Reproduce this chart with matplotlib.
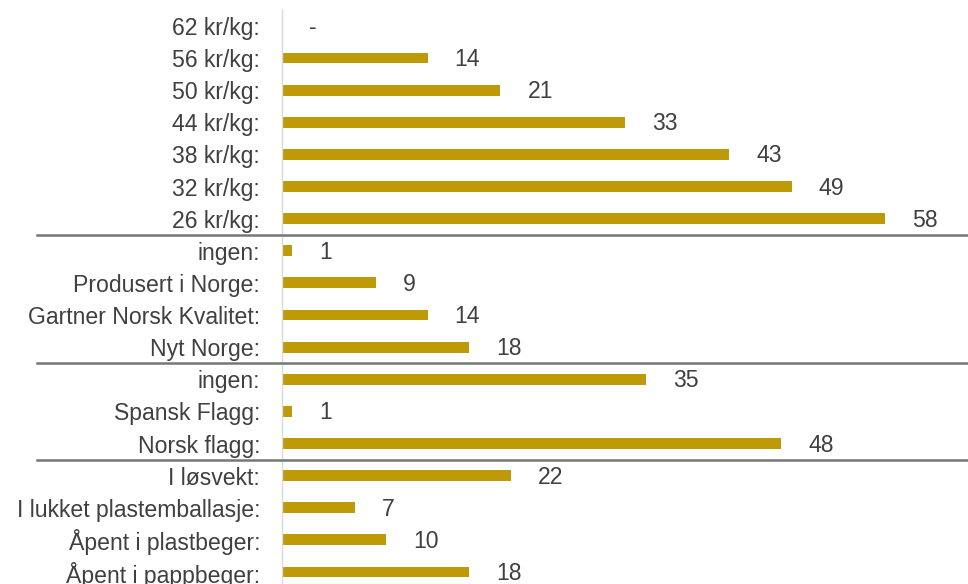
import matplotlib.pyplot as plt
from matplotlib.transforms import blended_transform_factory

# pris, merking, flagg og emballasje - antall valg per alternativ
pris = ['62 kr/kg:', '56 kr/kg:', '50 kr/kg:', '44 kr/kg:', '38 kr/kg:', '32 kr/kg:', '26 kr/kg:']
pris_verdi = [0, 14, 21, 33, 43, 49, 58]
merke = ['ingen:', 'Produsert i Norge:', 'Gartner Norsk Kvalitet:', 'Nyt Norge:']
merke_verdi = [1, 9, 14, 18]
flagg = ['ingen:', 'Spansk Flagg:', 'Norsk flagg:']
flagg_verdi = [35, 1, 48]
pakning = ['I løsvekt:', 'I lukket plastemballasje:', 'Åpent i plastbeger:', 'Åpent i pappbeger:']
pakning_verdi = [22, 7, 10, 18]

grupper = [(pris, pris_verdi), (merke, merke_verdi), (flagg, flagg_verdi), (pakning, pakning_verdi)]
labels = []
values = []
skille = []
for navn, verdi in grupper:
    labels += navn
    values += verdi
    skille.append(len(labels) - 0.5)
skille = skille[:-1]

plt.rcParams['font.family'] = ['Liberation Sans', 'DejaVu Sans']
gull = '#BE9A08'
tekst = '#404040'

fig = plt.figure(figsize=(9.68, 5.84), dpi=100)
ax = fig.add_axes([282 / 968, 0, 1 - 282 / 968, 1])

pos = list(range(len(labels)))
ax.barh(pos, values, height=0.34, color=gull)

ax.set_xlim(0, (968 - 282) / 10.4)
ax.set_ylim(17.373, -0.806)

px = 1 / 10.4
for i, v in enumerate(values):
    txt = '-' if v == 0 else str(v)
    ax.text(v + 27 * px, i + 0.05, txt, va='center', ha='left', fontsize=16.6, color=tekst)

ax.set_yticks(pos)
ax.set_yticklabels(labels, fontsize=16.6, color=tekst)
ax.tick_params(axis='y', length=0, pad=15.8)
ax.set_xticks([])
for s in ax.spines.values():
    s.set_visible(False)

# tynn akselinje og skillelinjer mellom gruppene
ax.plot([0, 0], [-0.5, 17.373], color='#d9d9d9', lw=1, clip_on=False)
tr = blended_transform_factory(fig.transFigure, ax.transData)
for y in skille:
    ax.plot([37 / 968, 1], [y, y], color='#767676', lw=1.8, transform=tr, clip_on=False)

fig.savefig('out.png', dpi=100)
